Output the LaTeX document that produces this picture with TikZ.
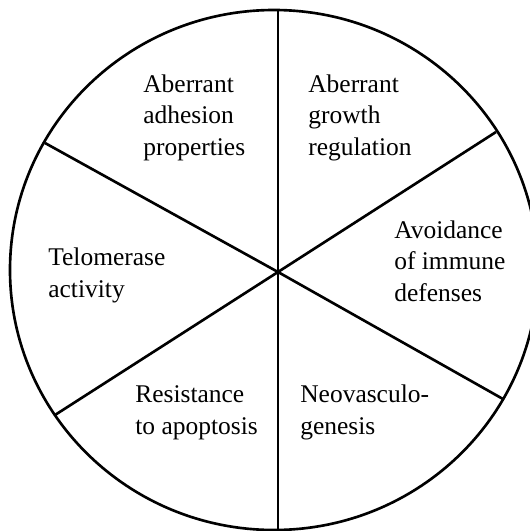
\documentclass[tikz,border=0pt]{standalone}
\usepackage{fontspec}
\setmainfont{Liberation Serif}
\usetikzlibrary{positioning}
\tikzset{
  sector/.style={font=\fontsize{14.5}{17.9}\selectfont, align=left, anchor=base west, inner sep=0pt}
}
\begin{document}
\begin{tikzpicture}[x=0.02cm, y=-0.02cm, line width=1.5pt]
  \useasboundingbox (0,0) rectangle (530,531);
  \clip (0,0) rectangle (530,531);
  \coordinate (c)  at (278,272);
  \coordinate (t)  at (278,10);
  \coordinate (b)  at (278,530);
  \coordinate (ul) at (45,143);
  \coordinate (ur) at (496,132);
  \coordinate (ll) at (55,415);
  \coordinate (lr) at (503,399);
  \draw (274,270) ellipse [x radius=264, y radius=260];
  \draw (t) -- (b);
  \draw (ul) -- (c) -- (lr);
  \draw (ur) -- (c) -- (ll);
  \node[sector] (adh)    at (142,155) {Aberrant\\adhesion\\properties};
  \node[sector] (grow)   at (307,155) {Aberrant\\growth\\regulation};
  \node[sector] (immune) at (393,301) {Avoidance\\of immune\\defenses};
  \node[sector] (telo)   at (47,297)  {Telomerase\\activity};
  \node[sector] (apop)   at (134,434) {Resistance\\to apoptosis};
  \node[sector] (neo)    at (299,434) {Neovasculo-\\genesis};
\end{tikzpicture}
\end{document}
